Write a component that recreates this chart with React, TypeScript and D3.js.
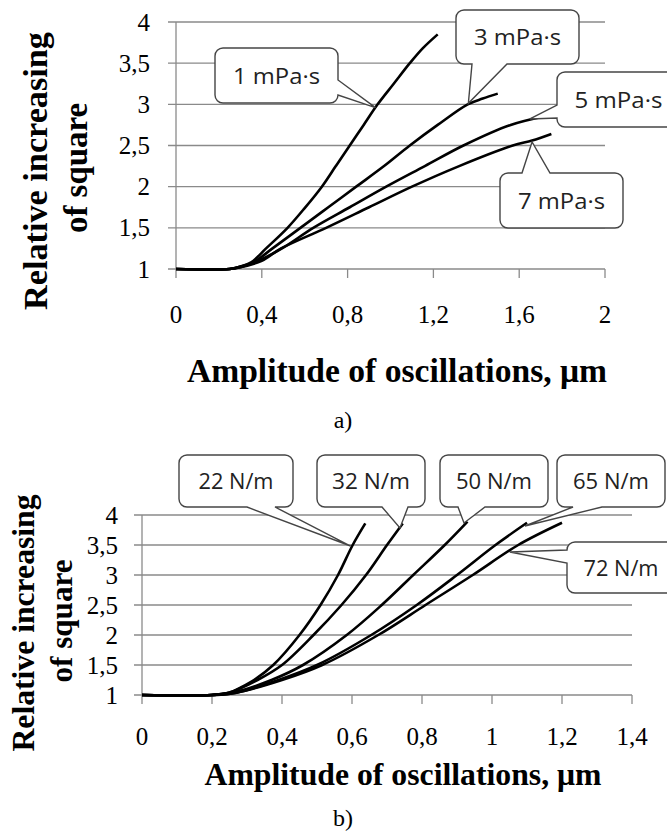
import React, { useRef, useEffect } from "react";
import * as d3 from "d3";

type Pt = [number, number];

// panel a) — viscosity series, [amplitude µm, relative increase]
const viscNames = ["1 mPa·s", "3 mPa·s", "5 mPa·s", "7 mPa·s"];
const visc1: Pt[] = [[0, 1], [0.25, 1], [0.3, 1.03], [0.35, 1.08], [0.42, 1.25], [0.52, 1.5], [0.6, 1.74], [0.68, 2], [0.745, 2.25], [0.81, 2.5], [0.875, 2.75], [0.94, 3], [1.015, 3.25], [1.09, 3.5], [1.15, 3.68], [1.22, 3.85]];
const visc3: Pt[] = [[0, 1], [0.25, 1], [0.3, 1.03], [0.36, 1.08], [0.45, 1.25], [0.58, 1.5], [0.71, 1.75], [0.84, 2], [0.97, 2.25], [1.09, 2.5], [1.22, 2.75], [1.36, 3], [1.43, 3.07], [1.5, 3.13]];
const visc5: Pt[] = [[0, 1], [0.25, 1], [0.3, 1.02], [0.4, 1.12], [0.5, 1.26], [0.64, 1.5], [0.81, 1.75], [0.98, 2], [1.16, 2.25], [1.34, 2.5], [1.56, 2.75], [1.71, 2.85]];
const visc7: Pt[] = [[0, 1], [0.25, 1], [0.3, 1.02], [0.4, 1.1], [0.49, 1.25], [0.7, 1.5], [0.9, 1.75], [1.1, 2], [1.32, 2.25], [1.57, 2.5], [1.66, 2.56], [1.75, 2.64]];
const viscTips: Pt[] = [[0.93, 2.96], [1.363, 3.013], [1.65, 2.822], [1.66, 2.543]];

// panel b) — stiffness series
const stiffNames = ["22 N/m", "32 N/m", "50 N/m", "65 N/m", "72 N/m"];
const stiff22: Pt[] = [[0, 1], [0.2, 1], [0.25, 1.04], [0.28, 1.12], [0.32, 1.25], [0.375, 1.5], [0.45, 2], [0.51, 2.5], [0.56, 3], [0.602, 3.5], [0.638, 3.86]];
const stiff32: Pt[] = [[0, 1], [0.2, 1], [0.25, 1.04], [0.33, 1.25], [0.4, 1.5], [0.49, 2], [0.57, 2.5], [0.64, 3], [0.7, 3.5], [0.745, 3.86]];
const stiff50: Pt[] = [[0, 1], [0.2, 1], [0.26, 1.04], [0.37, 1.25], [0.46, 1.5], [0.585, 2], [0.685, 2.5], [0.775, 3], [0.865, 3.5], [0.93, 3.89]];
const stiff65: Pt[] = [[0, 1], [0.2, 1], [0.27, 1.04], [0.39, 1.25], [0.5, 1.5], [0.655, 2], [0.785, 2.5], [0.9, 3], [1.01, 3.5], [1.1, 3.87]];
const stiff72: Pt[] = [[0, 1], [0.2, 1], [0.27, 1.04], [0.4, 1.25], [0.515, 1.5], [0.675, 2], [0.81, 2.5], [0.945, 3], [1.075, 3.5], [1.2, 3.87]];
const stiffTips: Pt[] = [[0.596, 3.483], [0.737, 3.783], [0.92, 3.867], [1.094, 3.817], [1.051, 3.383]];

const yTicks = [1, 1.5, 2, 2.5, 3, 3.5, 4];
const topXTicks = [0, 0.4, 0.8, 1.2, 1.6, 2];
const bottomXTicks = [0, 0.2, 0.4, 0.6, 0.8, 1, 1.2, 1.4];
const yTitle = ["Relative increasing", "of square"];
const xTitle = "Amplitude of oscillations, μm";
const panelLabels = ["a)", "b)"];

const fmt = (v: number) => String(v).replace(".", ",");
const GRID = "#8a8a8a";
const SERIF = "'Liberation Serif', 'Times New Roman', serif";
const SANS = "'Open Sans', 'DejaVu Sans', sans-serif";

function calloutPath(b: number[], side: string, a1: number, a2: number, tip: Pt) {
  const [x, y, w, h] = b;
  const r = 8;
  const p = d3.path();
  p.moveTo(x + r, y);
  if (side === "top") { p.lineTo(a1, y); p.lineTo(tip[0], tip[1]); p.lineTo(a2, y); }
  p.lineTo(x + w - r, y);
  p.arcTo(x + w, y, x + w, y + r, r);
  if (side === "right") { p.lineTo(x + w, a1); p.lineTo(tip[0], tip[1]); p.lineTo(x + w, a2); }
  p.lineTo(x + w, y + h - r);
  p.arcTo(x + w, y + h, x + w - r, y + h, r);
  if (side === "bottom") { p.lineTo(a2, y + h); p.lineTo(tip[0], tip[1]); p.lineTo(a1, y + h); }
  p.lineTo(x + r, y + h);
  p.arcTo(x, y + h, x, y + h - r, r);
  if (side === "left") { p.lineTo(x, a2); p.lineTo(tip[0], tip[1]); p.lineTo(x, a1); }
  p.lineTo(x, y + r);
  p.arcTo(x, y, x + r, y, r);
  p.closePath();
  return p.toString();
}

function drawPanel(svg: any, cfg: any) {
  const { x, y, xTicks, series, names, tips, boxes, labelX, xLabelBase, yTitles, yFont, xTitlePos, textLen } = cfg;
  const g = svg.append("g");
  const [x0, x1] = x.range();

  // horizontal gridlines with outside ticks
  g.selectAll(".grid")
    .data(yTicks)
    .enter()
    .append("line")
    .attr("x1", x0 - 8)
    .attr("x2", x1)
    .attr("y1", (d: number) => y(d))
    .attr("y2", (d: number) => y(d))
    .attr("stroke", GRID)
    .attr("stroke-width", 1.3);

  g.append("line")
    .attr("x1", x0).attr("x2", x0)
    .attr("y1", y(4)).attr("y2", y(1))
    .attr("stroke", GRID).attr("stroke-width", 1.3);

  g.selectAll(".xtick")
    .data(xTicks)
    .enter()
    .append("line")
    .attr("x1", (d: number) => x(d))
    .attr("x2", (d: number) => x(d))
    .attr("y1", y(1))
    .attr("y2", y(1) + 9)
    .attr("stroke", GRID)
    .attr("stroke-width", 1.3);

  g.selectAll(".ylab")
    .data(yTicks)
    .enter()
    .append("text")
    .attr("x", labelX)
    .attr("y", (d: number) => y(d))
    .attr("dy", "0.34em")
    .attr("text-anchor", "end")
    .style("font-family", SERIF)
    .style("font-size", "25px")
    .text((d: number) => fmt(d));

  g.selectAll(".xlab")
    .data(xTicks)
    .enter()
    .append("text")
    .attr("x", (d: number) => x(d))
    .attr("y", xLabelBase)
    .attr("text-anchor", "middle")
    .style("font-family", SERIF)
    .style("font-size", "25px")
    .text((d: number) => fmt(d));

  const line = d3
    .line<Pt>()
    .x((d) => x(d[0]))
    .y((d) => y(d[1]))
    .curve(d3.curveCatmullRom.alpha(0.5));

  g.selectAll(".series")
    .data(series)
    .enter()
    .append("path")
    .attr("d", (d: Pt[]) => line(d))
    .attr("fill", "none")
    .attr("stroke", "#000")
    .attr("stroke-width", 2.6)
    .attr("stroke-linejoin", "round");

  // callouts
  boxes.forEach((b: any, i: number) => {
    const tip: Pt = [x(tips[i][0]), y(tips[i][1])];
    g.append("path")
      .attr("d", calloutPath(b.r, b.side, b.a1, b.a2, tip))
      .attr("fill", "#fff")
      .attr("stroke", "#454545")
      .attr("stroke-width", 1.4);
    g.append("text")
      .attr("x", b.r[0] + b.r[2] / 2)
      .attr("y", b.r[1] + b.r[3] / 2)
      .attr("dominant-baseline", "central")
      .attr("text-anchor", "middle")
      .attr("textLength", b.len)
      .attr("lengthAdjust", "spacingAndGlyphs")
      .style("font-family", SANS)
      .style("font-size", "21px")
      .style("fill", "#222")
      .text(names[i]);
  });

  yTitles.forEach((t: any, i: number) => {
    g.append("text")
      .attr("transform", `translate(${t.x},${t.y}) rotate(-90)`)
      .attr("text-anchor", "middle")
      .attr("textLength", t.len)
      .attr("lengthAdjust", "spacingAndGlyphs")
      .style("font-family", SERIF)
      .style("font-weight", "bold")
      .style("font-size", yFont + "px")
      .text(yTitle[i]);
  });

  g.append("text")
    .attr("x", xTitlePos[0])
    .attr("y", xTitlePos[1])
    .attr("text-anchor", "middle")
    .attr("textLength", textLen)
    .attr("lengthAdjust", "spacingAndGlyphs")
    .style("font-family", SERIF)
    .style("font-weight", "bold")
    .style("font-size", yFont + "px")
    .text(xTitle);

  g.append("text")
    .attr("x", 343)
    .attr("y", cfg.panelY)
    .attr("text-anchor", "middle")
    .style("font-family", SERIF)
    .style("font-size", "24px")
    .text(cfg.panelLabel);
}

const App = () => {
  const ref = useRef<SVGSVGElement>(null);

  useEffect(() => {
    const svg = d3.select(ref.current);
    svg.selectAll("*").remove();

    drawPanel(svg, {
      x: d3.scaleLinear().domain([0, 2]).range([176, 605]),
      y: d3.scaleLinear().domain([1, 4]).range([269, 22]),
      xTicks: topXTicks,
      series: [visc1, visc3, visc5, visc7],
      names: viscNames,
      tips: viscTips,
      boxes: [
        { r: [215, 48, 123, 55], side: "right", a1: 80, a2: 95, len: 87 },
        { r: [456, 10, 123, 54], side: "bottom", a1: 472, a2: 507, len: 87 },
        { r: [557, 72, 123, 55], side: "left", a1: 105, a2: 118, len: 88 },
        { r: [500, 173, 123, 55], side: "top", a1: 522, a2: 550, len: 87 },
      ],
      labelX: 150,
      xLabelBase: 323,
      yTitles: [
        { x: 47, y: 171, len: 278 },
        { x: 87, y: 168, len: 130 },
      ],
      yFont: 34,
      xTitlePos: [397, 382],
      textLen: 420,
      panelLabel: panelLabels[0],
      panelY: 428,
    });

    drawPanel(svg, {
      x: d3.scaleLinear().domain([0, 1.4]).range([142, 632]),
      y: d3.scaleLinear().domain([1, 4]).range([695, 515]),
      xTicks: bottomXTicks,
      series: [stiff22, stiff32, stiff50, stiff65, stiff72],
      names: stiffNames,
      tips: stiffTips,
      boxes: [
        { r: [179, 455, 114, 52], side: "bottom", a1: 247, a2: 275, len: 75 },
        { r: [317, 455, 108, 52], side: "bottom", a1: 382, a2: 408, len: 78 },
        { r: [440, 455, 108, 52], side: "bottom", a1: 458, a2: 485, len: 76 },
        { r: [557, 455, 108, 52], side: "bottom", a1: 573, a2: 602, len: 76 },
        { r: [567, 542, 108, 51], side: "left", a1: 550, a2: 563, len: 75 },
      ],
      labelX: 118,
      xLabelBase: 745,
      yTitles: [
        { x: 34, y: 623, len: 257 },
        { x: 72, y: 621, len: 123 },
      ],
      yFont: 31.6,
      xTitlePos: [403, 785],
      textLen: 397,
      panelLabel: panelLabels[1],
      panelY: 826,
    });
  }, []);

  return (
    <svg
      ref={ref}
      width={667}
      height={832}
      style={{ position: "absolute", left: 0, top: 0, background: "#fff" }}
    ></svg>
  );
};

export default App;
